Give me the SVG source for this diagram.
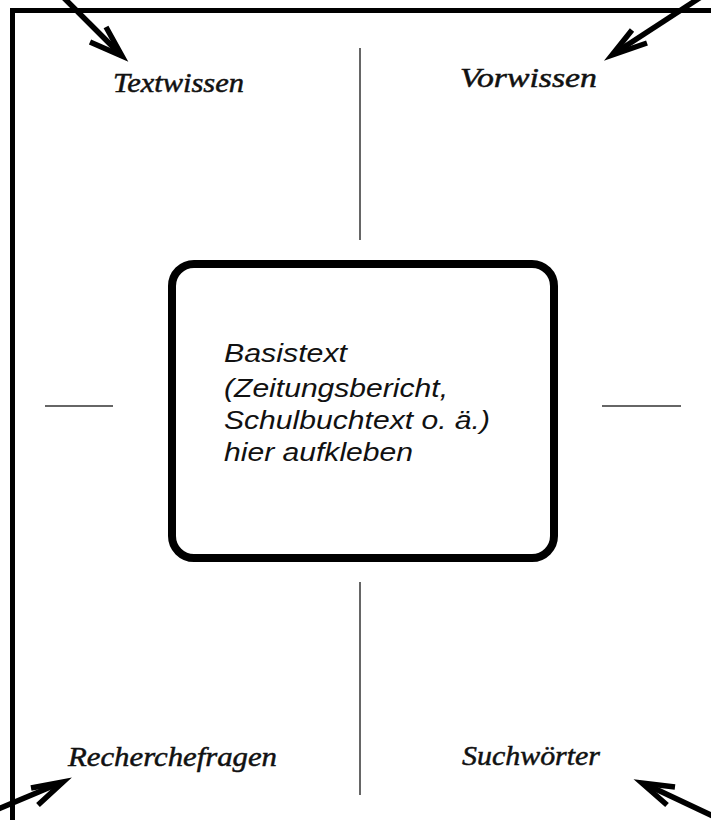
<svg xmlns="http://www.w3.org/2000/svg" width="711" height="820" viewBox="0 0 711 820">
<defs>
<style>
.frame{fill:none;stroke:#000;stroke-width:5}
.arrow{fill:none;stroke:#000;stroke-width:5.5;stroke-linecap:butt;stroke-linejoin:miter}
.cross{stroke:#333;stroke-width:1.5}
.box{fill:#fff;stroke:#000;stroke-width:8}
.lbl{font-family:"Liberation Serif","DejaVu Serif",serif;font-style:italic;font-size:28px;fill:#111;stroke:#111;stroke-width:0.5}
.body{font-family:"Liberation Sans",Arial,sans-serif;font-style:italic;font-size:25.5px;fill:#111}
</style>
</defs>
<rect width="711" height="820" fill="#fff"/>
<path class="frame" d="M12.5 830 V10.5 H720"/>
<g id="connectors">
<line class="cross" x1="360" y1="48" x2="360" y2="240"/>
<line class="cross" x1="360" y1="582" x2="360" y2="795"/>
<line class="cross" x1="45" y1="406" x2="113" y2="406"/>
<line class="cross" x1="602" y1="406" x2="681" y2="406"/>
<g id="arrow-tl"><line class="arrow" x1="62" y1="-4" x2="120" y2="54"/><polyline class="arrow" points="90,42 122,56 106,27"/></g>
<g id="arrow-tr"><line class="arrow" x1="701" y1="-3" x2="615" y2="53"/><polyline class="arrow" points="632,30 612,55 647,43"/></g>
<g id="arrow-bl"><line class="arrow" x1="-4" y1="810" x2="60" y2="783"/><polyline class="arrow" points="31,788 63,782 38,805"/></g>
<g id="arrow-br"><line class="arrow" x1="715" y1="817" x2="645" y2="784"/><polyline class="arrow" points="675,787 642,783 667,805"/></g>
</g>
<g id="center">
<rect class="box" x="172" y="264" width="382" height="294" rx="22" ry="22"/>
<text class="body" x="224" y="362" textLength="123" lengthAdjust="spacingAndGlyphs">Basistext</text>
<text class="body" x="224" y="397" textLength="224" lengthAdjust="spacingAndGlyphs">(Zeitungsbericht,</text>
<text class="body" x="224" y="429" textLength="266" lengthAdjust="spacingAndGlyphs">Schulbuchtext o. ä.)</text>
<text class="body" x="224" y="461" textLength="189" lengthAdjust="spacingAndGlyphs">hier aufkleben</text>
</g>
<g id="textwissen"><text class="lbl" x="113" y="92" textLength="131" lengthAdjust="spacingAndGlyphs">Textwissen</text></g>
<g id="vorwissen"><text class="lbl" x="460" y="87" textLength="137" lengthAdjust="spacingAndGlyphs">Vorwissen</text></g>
<g id="recherchefragen"><text class="lbl" x="68" y="766" textLength="209" lengthAdjust="spacingAndGlyphs">Recherchefragen</text></g>
<g id="suchwoerter"><text class="lbl" x="462" y="765" textLength="138" lengthAdjust="spacingAndGlyphs">Suchwörter</text></g>
</svg>
